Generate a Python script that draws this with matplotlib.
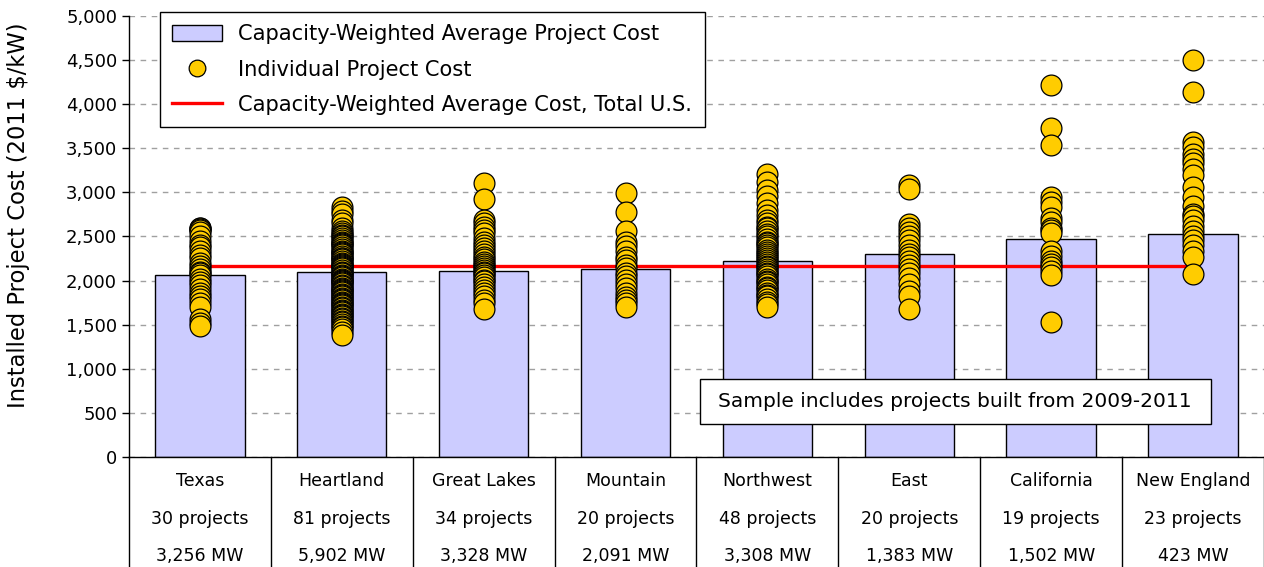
import matplotlib
matplotlib.use("Agg")
import matplotlib.pyplot as plt
from matplotlib.patches import Rectangle
from matplotlib.lines import Line2D
from matplotlib.ticker import FuncFormatter, MultipleLocator

# --- Data --------------------------------------------------------------------

regions = ["Texas", "Heartland", "Great Lakes", "Mountain",
           "Northwest", "East", "California", "New England"]
n_projects = [30, 81, 34, 20, 48, 20, 19, 23]
capacity_mw = ["3,256", "5,902", "3,328", "2,091", "3,308", "1,383", "1,502", "423"]

avg_cost = [2060, 2098, 2113, 2135, 2226, 2298, 2475, 2532]
us_avg_cost = 2170

texas = [2600, 2590, 2580, 2570, 2550, 2500, 2450, 2400, 2380, 2330,
         2290, 2250, 2200, 2160, 2130, 2100, 2080, 2060, 2020, 1980,
         1950, 1900, 1860, 1820, 1790, 1750, 1700, 1560, 1520, 1480]
heartland = [2830, 2790, 2750, 2690, 2650, 2600, 2560, 2540, 2520, 2500,
             2480, 2460, 2440, 2420, 2410, 2400, 2380, 2360, 2340, 2320,
             2310, 2300, 2280, 2260, 2250, 2240, 2220, 2200, 2190, 2180,
             2160, 2150, 2140, 2120, 2100, 2090, 2080, 2060, 2050, 2040,
             2020, 2010, 2000, 1990, 1980, 1970, 1950, 1940, 1920, 1900,
             1890, 1880, 1870, 1850, 1840, 1820, 1800, 1790, 1780, 1760,
             1750, 1730, 1720, 1700, 1690, 1670, 1650, 1640, 1620, 1610,
             1600, 1580, 1560, 1540, 1530, 1510, 1490, 1470, 1450, 1420,
             1380]
great_lakes = [3110, 2930, 2690, 2650, 2610, 2570, 2540, 2480, 2440, 2400,
               2370, 2330, 2300, 2270, 2240, 2210, 2190, 2160, 2140, 2120,
               2100, 2080, 2060, 2040, 2010, 1990, 1960, 1930, 1890, 1860,
               1830, 1780, 1740, 1680]
mountain = [2990, 2780, 2560, 2440, 2390, 2330, 2270, 2230, 2180, 2140,
            2090, 2050, 2010, 1960, 1910, 1860, 1810, 1780, 1740, 1700]
northwest = [3210, 3120, 3030, 2960, 2880, 2800, 2740, 2690, 2650, 2610,
             2590, 2560, 2530, 2500, 2470, 2440, 2420, 2400, 2380, 2350,
             2320, 2300, 2280, 2260, 2230, 2210, 2190, 2170, 2150, 2130,
             2110, 2090, 2070, 2050, 2020, 2000, 1980, 1960, 1930, 1910,
             1890, 1860, 1840, 1820, 1790, 1760, 1730, 1700]
east = [3080, 3040, 2640, 2590, 2550, 2500, 2460, 2400, 2350, 2300,
        2270, 2220, 2180, 2130, 2080, 2030, 1960, 1880, 1820, 1680]
california = [4220, 3730, 3540, 2950, 2890, 2830, 2710, 2660, 2600, 2570,
              2540, 2330, 2280, 2220, 2190, 2150, 2110, 2060, 1530]
new_england = [4500, 4140, 3570, 3510, 3440, 3380, 3330, 3260, 3200, 3060,
               2950, 2840, 2760, 2730, 2690, 2620, 2560, 2500, 2460, 2400,
               2330, 2270, 2070]

project_costs = [texas, heartland, great_lakes, mountain,
                 northwest, east, california, new_england]

# --- Style -------------------------------------------------------------------

BAR_COLOR = "#CCCCFF"
DOT_COLOR = "#FFCC00"
LINE_COLOR = "#FF0000"
GRID_COLOR = "#A0A0A0"

plt.rcParams["font.family"] = "DejaVu Sans"

fig = plt.figure(figsize=(12.64, 5.67), dpi=100)
ax = fig.add_axes([0.102, 0.194, 0.898, 0.778])

x = list(range(len(regions)))

ax.bar(x, avg_cost, width=0.63, color=BAR_COLOR, edgecolor="black",
       linewidth=1.0, zorder=2)
ax.plot([x[0], x[-1]], [us_avg_cost, us_avg_cost], color=LINE_COLOR,
        lw=2.4, zorder=3)
for i, costs in enumerate(project_costs):
    ax.plot([i] * len(costs), costs, "o", ms=15, mfc=DOT_COLOR,
            mec="black", mew=0.9, zorder=4, clip_on=False)

ax.set_xlim(-0.5, len(regions) - 0.5)
ax.set_ylim(0, 5000)
ax.yaxis.set_major_locator(MultipleLocator(500))
ax.yaxis.set_major_formatter(FuncFormatter(lambda v, p: f"{int(v):,}"))
ax.tick_params(axis="y", labelsize=13, length=5, width=1, direction="out")
ax.set_xticks([])
ax.grid(axis="y", color=GRID_COLOR, linestyle=(0, (4, 4)), lw=1, zorder=0)
ax.set_axisbelow(True)

for side in ("top", "right"):
    ax.spines[side].set_visible(False)
ax.spines["left"].set_linewidth(1)
ax.spines["bottom"].set_linewidth(1)

ax.set_ylabel("Installed Project Cost (2011 $/kW)", fontsize=16.3)
ax.yaxis.set_label_coords(-0.087, 0.548)

# category table under the axis
xt = ax.get_xaxis_transform()
for b in range(len(regions) + 1):
    ax.plot([b - 0.5, b - 0.5], [0, -0.26], color="black", lw=1,
            transform=xt, clip_on=False)
for i in x:
    ax.text(i, -0.055, regions[i], ha="center", va="center", fontsize=12.5,
            transform=xt)
    ax.text(i, -0.141, f"{n_projects[i]} projects", ha="center", va="center",
            fontsize=12.5, transform=xt)
    ax.text(i, -0.225, f"{capacity_mw[i]} MW", ha="center", va="center",
            fontsize=12.5, transform=xt)

# note box
ax.add_patch(Rectangle((0.503, 0.075), 0.450, 0.102, transform=ax.transAxes,
                       facecolor="white", edgecolor="black", lw=1, zorder=5))
ax.text(0.728, 0.126, "Sample includes projects built from 2009-2011",
        ha="center", va="center", fontsize=14.5, transform=ax.transAxes,
        zorder=6)

handles = [
    Rectangle((0, 0), 1, 1, facecolor=BAR_COLOR, edgecolor="black", lw=1),
    Line2D([], [], ls="none", marker="o", ms=12, mfc=DOT_COLOR, mec="black",
           mew=0.9),
    Line2D([], [], color=LINE_COLOR, lw=2.4),
]
labels = ["Capacity-Weighted Average Project Cost", "Individual Project Cost",
          "Capacity-Weighted Average Cost, Total U.S."]
leg = ax.legend(handles, labels, loc="upper left", bbox_to_anchor=(0.027, 1.009),
                borderaxespad=0, fontsize=15.1, frameon=True, fancybox=False,
                edgecolor="black", framealpha=1, handlelength=2.4,
                handleheight=0.75, handletextpad=0.75, labelspacing=0.72,
                borderpad=0.6)
leg.get_frame().set_linewidth(1)
leg.set_zorder(10)

fig.savefig("out.png", dpi=100)
